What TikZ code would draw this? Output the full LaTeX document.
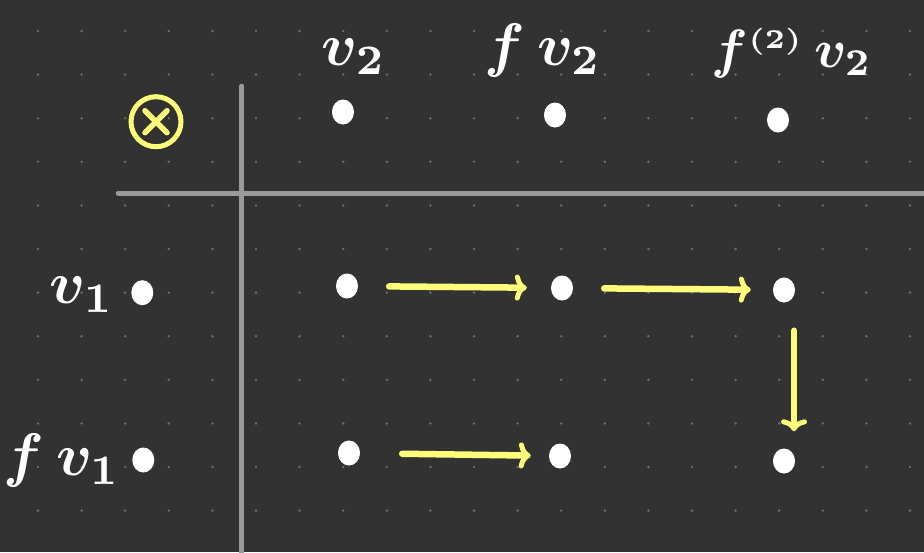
\documentclass[tikz,border=0pt]{standalone}
\usetikzlibrary{arrows.meta,shapes.geometric}
\definecolor{bg}{HTML}{323232}
\definecolor{griddot}{HTML}{6A6A6A}
\definecolor{axis}{HTML}{9A9A9A}
\definecolor{hl}{HTML}{FDFD7A}
\tikzset{
  pt/.style={ellipse, fill=white, inner sep=0pt, minimum width=22pt, minimum height=25pt},
  lbl/.style={text=white, scale=6, inner sep=0pt, font=\boldmath},
  arr/.style={draw=hl, line width=6.5pt, line cap=round, -{To[length=12pt,width=26pt,line width=5pt]}},
  axisline/.style={draw=axis, line width=4.5pt, line cap=round},
}
\begin{document}
\begin{tikzpicture}[x=1pt,y=-1pt]
\fill[bg] (0,0) rectangle (924,552);
\useasboundingbox (0,0) rectangle (924,552);
% dot grid
\foreach \i in {0,...,20} {
  \foreach \j in {0,...,11} {
    \fill[griddot] (38+43.6*\i, 31+43.6*\j) circle (1.4pt);
  }
}
% axes
\draw[axisline] (241.7,86) -- (241.7,560);
\draw[axisline] (118,193.3) -- (935,193.3);
% tensor symbol
\node[circle, draw=hl, line width=5pt, minimum size=50pt, inner sep=0pt] (ot) at (156,121.7) {};
\draw[hl, line width=5.5pt, line cap=round] ([shift={(-11,11)}]ot.center) -- ([shift={(11,-11)}]ot.center);
\draw[hl, line width=5.5pt, line cap=round] ([shift={(-11,-11)}]ot.center) -- ([shift={(11,11)}]ot.center);
% top dots
\node[pt] (t1) at (343,112) {};
\node[pt] (t2) at (555,115) {};
\node[pt] (t3) at (778,120) {};
% left dots
\node[pt] (l1) at (142.3,292.7) {};
\node[pt] (l2) at (143.3,460) {};
% grid dots
\node[pt] (a) at (347,286) {};
\node[pt] (b) at (562,288) {};
\node[pt] (c) at (784,290) {};
\node[pt] (d) at (349,453) {};
\node[pt] (e) at (560,456) {};
\node[pt] (f) at (784,461) {};
% labels
\node[lbl] (lv2) at (354,57) {$v_2$};
\node[lbl] (lfv2) at (543,50) {$f\,v_2$};
\node[lbl, scale=0.9] (lf2v2) at (792,53) {$f^{\scriptscriptstyle(2)}\,v_2$};
\node[lbl] (lv1) at (82,295) {$v_1$};
\node[lbl] (lfv1) at (62,460) {$f\,v_1$};
% arrows
\draw[arr, shorten <=31pt, shorten >=24pt] (a) -- (b);
\draw[arr, shorten <=31pt, shorten >=22pt] (b) -- (c);
\draw[arr, shorten <=42pt, shorten >=18pt] (d) -- (e);
\draw[arr] ([shift={(10,28)}]c.south) -- ([shift={(10,-17)}]f.north);
\end{tikzpicture}
\end{document}
